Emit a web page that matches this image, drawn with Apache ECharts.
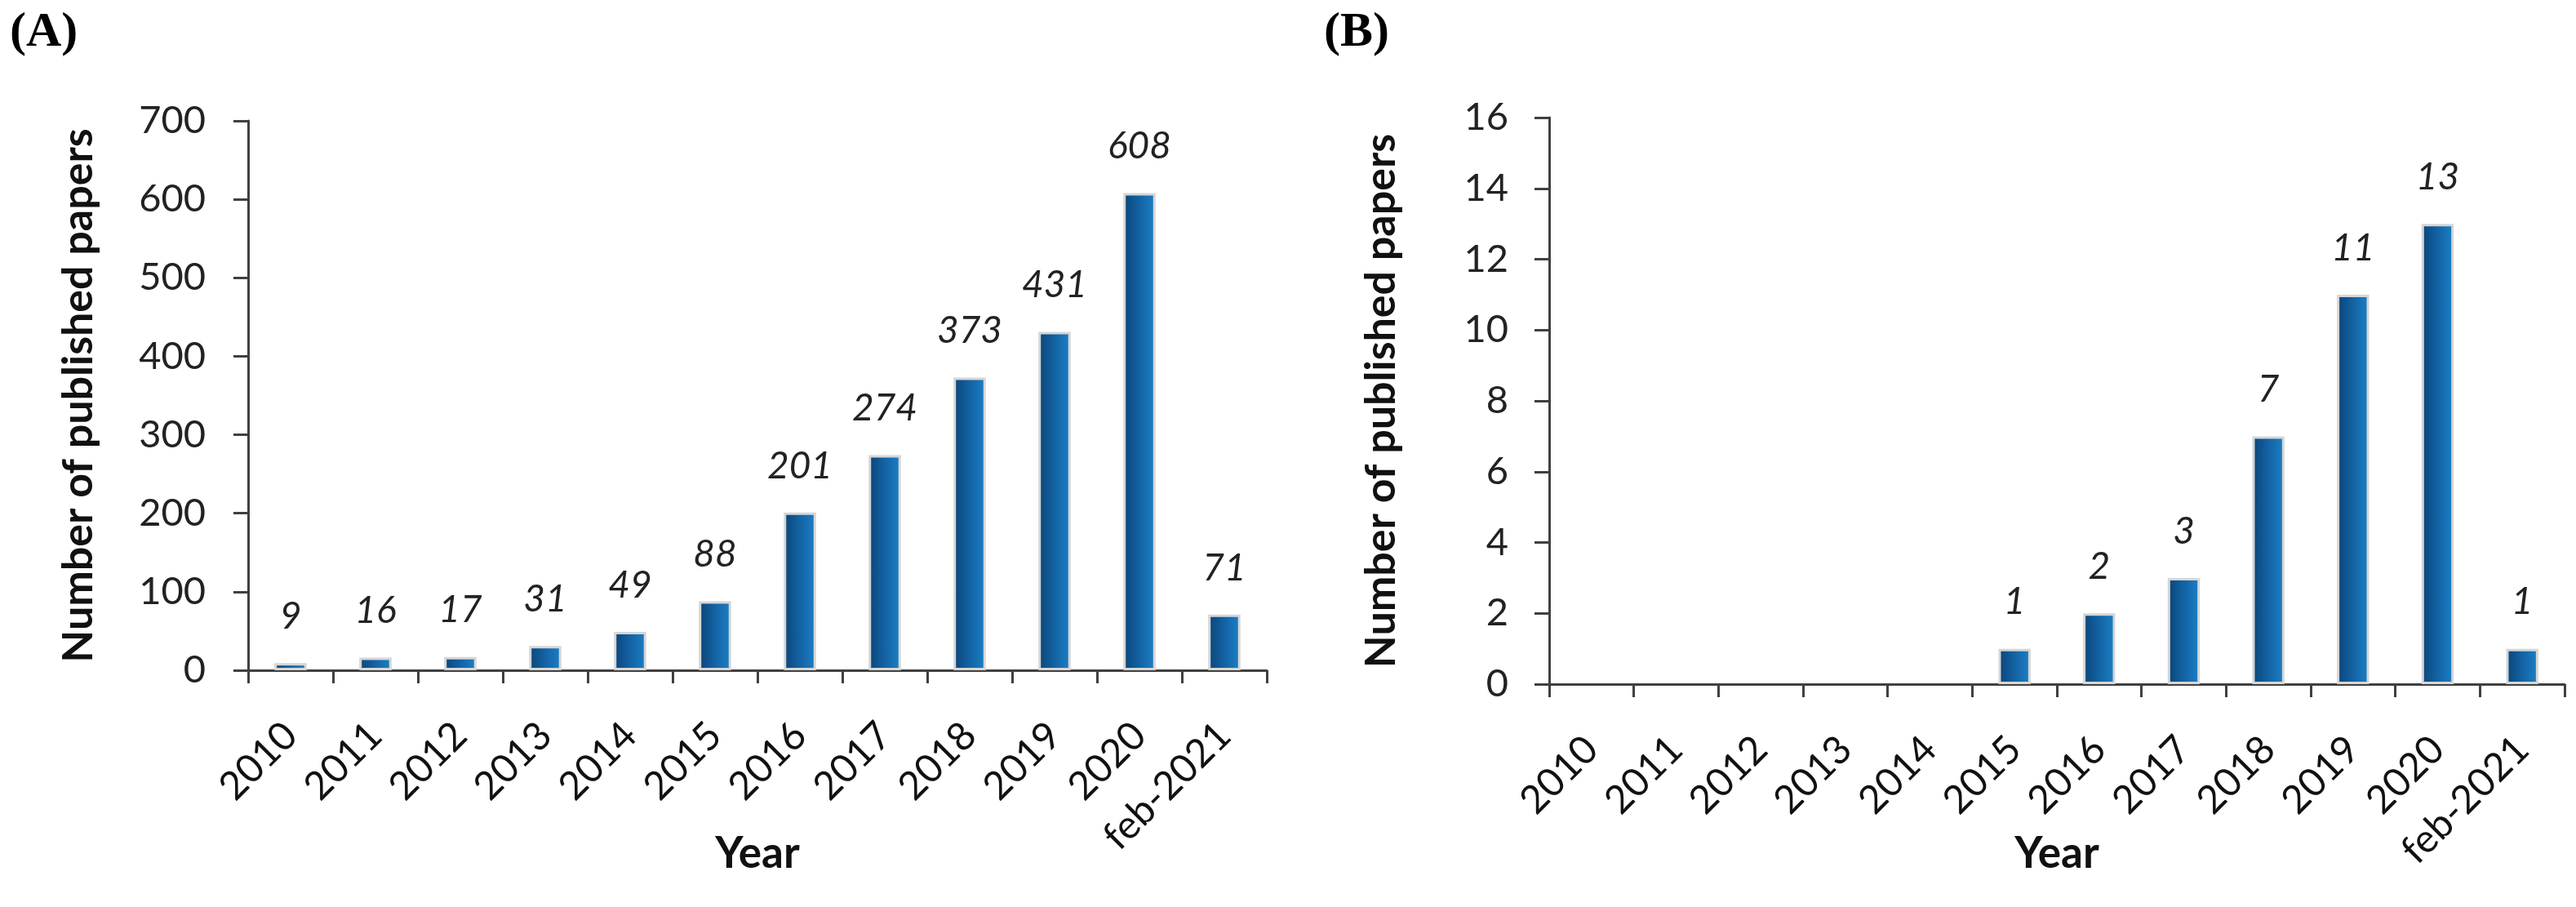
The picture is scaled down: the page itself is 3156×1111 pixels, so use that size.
<!DOCTYPE html>
<html>
<head>
<meta charset="utf-8">
<script src="https://cdn.jsdelivr.net/npm/echarts@6/dist/echarts.min.js"></script>
<style>html,body{margin:0;padding:0;background:#fff}#c{width:3156px;height:1111px}</style>
</head>
<body>
<div id="c"></div>
<script>
const categories = ['2010','2011','2012','2013','2014','2015','2016','2017','2018','2019','2020','feb-2021'];
const papersA = [9,16,17,31,49,88,201,274,373,431,608,71];
const papersB = [0,0,0,0,0,1,2,3,7,11,13,1];
const yTicksA = {min:0,max:700,interval:100};
const yTicksB = {min:0,max:16,interval:2};
const panelLabels = ['(A)','(B)'];
const yTitle = 'Number of published papers';
const xTitle = 'Year';

const FONT = 'Lato';
const axisColor = '#404040';
const barGrad = {type:'linear',x:0,y:0,x2:1,y2:0,colorStops:[
  {offset:0,color:'#0a4477'},{offset:0.5,color:'#1363a4'},{offset:1,color:'#1c80c6'}]};

function xAxis(gi, gap){
  return {type:'category',gridIndex:gi,data:categories,
    axisLine:{lineStyle:{color:axisColor,width:3}},
    axisTick:{show:true,length:16,lineStyle:{color:axisColor,width:3}},
    axisLabel:{rotate:45,interval:0,margin:72,color:'#111',fontFamily:FONT,fontSize:48},
    name:xTitle,nameLocation:'middle',nameGap:gap,nameMoveOverlap:false,
    nameTextStyle:{fontFamily:FONT,fontWeight:'bold',fontSize:53,color:'#111'}};
}
function yAxis(gi, t, margin){
  return {type:'value',gridIndex:gi,min:t.min,max:t.max,interval:t.interval,
    splitLine:{show:false},
    axisLine:{show:true,lineStyle:{color:axisColor,width:3}},
    axisTick:{show:true,length:18,lineStyle:{color:axisColor,width:3}},
    axisLabel:{margin:margin,color:'#222',fontFamily:FONT,fontSize:47},
    name:yTitle,nameLocation:'middle',nameGap:margin+130,nameMoveOverlap:false,
    nameTextStyle:{fontFamily:FONT,fontWeight:'bold',fontSize:52,color:'#111'}};
}
function series(gi, data){
  return {type:'bar',xAxisIndex:gi,yAxisIndex:gi,barWidth:'38%',
    data:data.map(v=>({value:v,itemStyle:{borderWidth:v===0?0:3}})),
    itemStyle:{color:barGrad,borderColor:'#d6d6d6',borderWidth:3},
    label:{show:true,position:'top',distance:34,fontFamily:FONT,fontStyle:'italic',fontSize:46,color:'#222',
      formatter:p=>p.value===0?'':String(p.value)}};
}

const chart = echarts.init(document.getElementById('c'),null,{renderer:'canvas'});
chart.setOption({
  backgroundColor:'#fff',
  animation:false,
  grid:[{left:304,top:148,width:1248,height:673},{left:1898,top:144,width:1244,height:694}],
  xAxis:[xAxis(0,198),xAxis(1,181)],
  yAxis:[yAxis(0,yTicksA,52),yAxis(1,yTicksB,50)],
  series:[series(0,papersA),series(1,papersB)],
  graphic:[
    {type:'text',left:12,top:10,style:{text:panelLabels[0],font:'bold 60px "Liberation Serif"',fill:'#000'}},
    {type:'text',left:1622,top:10,style:{text:panelLabels[1],font:'bold 60px "Liberation Serif"',fill:'#000'}}
  ]
});
</script>
</body>
</html>
